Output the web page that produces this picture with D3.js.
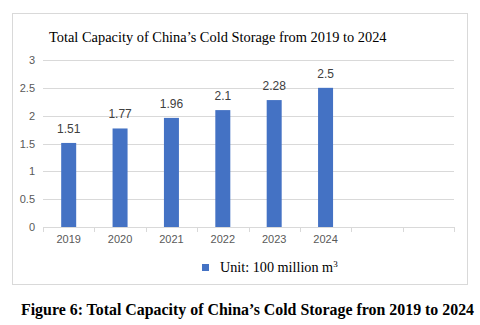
<!DOCTYPE html>
<html><head><meta charset="utf-8">
<script src="https://cdn.jsdelivr.net/npm/d3@7"></script>
<style>body{margin:0;background:#fff;}svg{display:block;}</style>
</head><body>
<script>
const categories = ["2019","2020","2021","2022","2023","2024","",""];
const years = ["2019","2020","2021","2022","2023","2024"];
const values = [1.51,1.77,1.96,2.1,2.28,2.5];
const yTicks = [0,0.5,1,1.5,2,2.5,3];
const chartTitle = "Total Capacity of China\u2019s Cold Storage from 2019 to 2024";
const legendLabel = "Unit: 100 million m";
const caption = "Figure 6: Total Capacity of China\u2019s Cold Storage fron 2019 to 2024";

const W = 480, H = 325;
const svg = d3.select("body").append("svg").attr("width", W).attr("height", H);
svg.append("rect").attr("width", W).attr("height", H).attr("fill", "#fff");

// chart border
svg.append("rect").attr("x", 12.5).attr("y", 13.5).attr("width", 455).attr("height", 271)
  .attr("fill", "#fff").attr("stroke", "#d9d9d9").attr("stroke-width", 1);

const x = d3.scaleBand().domain(categories.map((c,i)=>i)).range([43, 454]);
const y = d3.scaleLinear().domain([0,3]).range([227, 60]);

// gridlines
svg.append("g").selectAll("line").data(yTicks.filter(t=>t>0)).join("line")
  .attr("x1", 43).attr("x2", 454)
  .attr("y1", d=>Math.round(y(d))+0.5).attr("y2", d=>Math.round(y(d))+0.5)
  .attr("stroke", "#d9d9d9").attr("stroke-width", 1);

// y axis labels
const yAxis = d3.axisLeft(y).tickValues(yTicks).tickSize(0).tickPadding(8).tickFormat(d3.format("~g"));
const gy = svg.append("g").attr("transform", "translate(43,0)").call(yAxis);
gy.select(".domain").remove();
gy.selectAll("text").attr("fill", "#595959").style("font-family", "'Liberation Sans', Arial, sans-serif").style("font-size", "11px");

// x axis
const xAxis = d3.axisBottom(x).tickSize(0).tickPadding(8).tickFormat(i=>categories[i]);
const gx = svg.append("g").attr("transform", "translate(0,227)").call(xAxis);
gx.select(".domain").attr("stroke", "#d9d9d9");
gx.selectAll("text").attr("fill", "#595959").style("font-family", "'Liberation Sans', Arial, sans-serif").style("font-size", "11px");
// tick marks at band boundaries
const bounds = d3.range(categories.length + 1).map(i => 43 + i * x.step());
svg.append("g").selectAll("line").data(bounds).join("line")
  .attr("x1", d=>Math.round(d)+0.5).attr("x2", d=>Math.round(d)+0.5)
  .attr("y1", 227).attr("y2", 232).attr("stroke", "#d9d9d9");

// bars
const barW = 15;
svg.append("g").selectAll("rect").data(values).join("rect")
  .attr("x", (d,i)=> x(i) + x.bandwidth()/2 - barW/2)
  .attr("y", d=>y(d)).attr("width", barW).attr("height", d=>y(0)-y(d))
  .attr("fill", "#4472C4");

// value labels
svg.append("g").selectAll("text").data(values).join("text")
  .attr("x", (d,i)=> x(i) + x.bandwidth()/2)
  .attr("y", d=>y(d) - 10)
  .attr("text-anchor", "middle")
  .attr("fill", "#404040")
  .style("font-family", "'Liberation Sans', Arial, sans-serif").style("font-size", "12px")
  .text(d=>d);

// title
svg.append("text").attr("x", 49).attr("y", 42)
  .attr("fill", "#000")
  .style("font-family", "'Liberation Serif', 'Times New Roman', serif").style("font-size", "14.4px")
  .text(chartTitle);

// legend
svg.append("rect").attr("x", 202).attr("y", 264).attr("width", 7).attr("height", 7).attr("fill", "#4472C4");
const lt = svg.append("text").attr("x", 220).attr("y", 272)
  .attr("fill", "#000")
  .style("font-family", "'Liberation Serif', 'Times New Roman', serif").style("font-size", "14.2px")
  .text(legendLabel);
lt.append("tspan").attr("dy", -5).style("font-size", "9px").text("3");

// caption
svg.append("text").attr("x", 21).attr("y", 315)
  .attr("fill", "#000")
  .style("font-family", "'Liberation Serif', 'Times New Roman', serif").style("font-size", "15.9px").style("font-weight", "bold")
  .text(caption);
</script>
</body></html>
